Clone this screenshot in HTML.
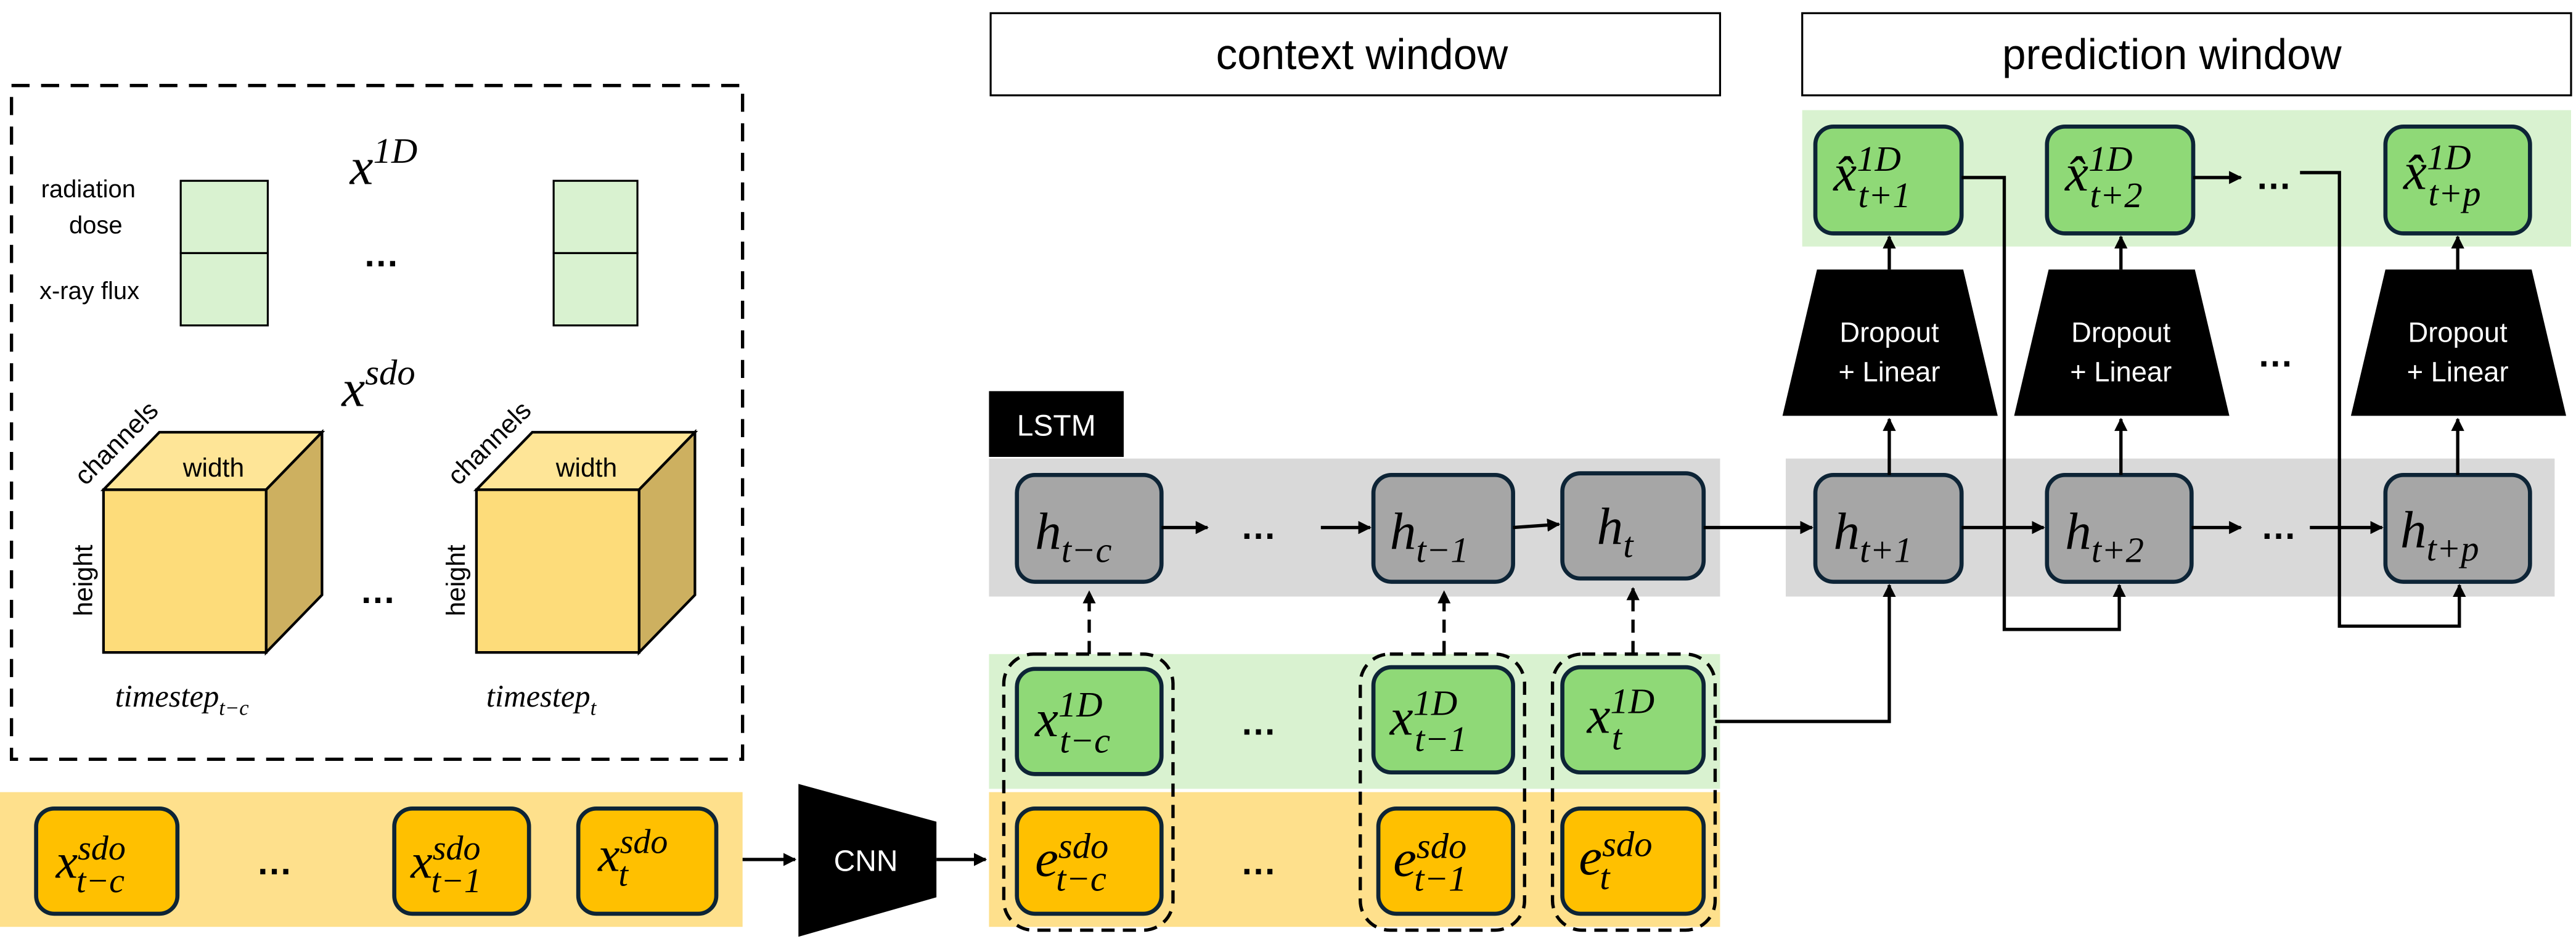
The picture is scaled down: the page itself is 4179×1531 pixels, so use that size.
<!DOCTYPE html>
<html><head><meta charset="utf-8"><style>html,body{margin:0;padding:0;background:#fff}svg{display:block}</style></head><body>
<svg width="4179" height="1531" viewBox="0 0 1568 574.4" xmlns="http://www.w3.org/2000/svg" font-family="Liberation Sans, sans-serif">
<defs>
<marker id="a" viewBox="0 0 10 10" refX="9" refY="5" markerWidth="4" markerHeight="4" orient="auto"><path d="M0,0L10,5L0,10z" fill="#000"/></marker>
</defs>
<!-- left dashed panel -->
<rect x="7" y="52" width="445" height="410" fill="none" stroke="#000" stroke-width="2" stroke-dasharray="11,7"/>
<text x="213" y="112" font-family="Liberation Serif, serif" font-style="italic" font-size="32">x<tspan font-size="22" dy="-13">1D</tspan></text>
<text x="25" y="120" font-size="15">radiation</text>
<text x="42" y="142" font-size="15">dose</text>
<text x="24" y="182" font-size="15">x-ray flux</text>
<g fill="#d9f2d0" stroke="#000" stroke-width="1.2">
<rect x="110" y="110" width="53" height="44"/><rect x="110" y="154" width="53" height="44"/>
<rect x="337" y="110" width="51" height="44"/><rect x="337" y="154" width="51" height="44"/>
</g>
<text x="232" y="162" font-size="22" font-weight="bold" text-anchor="middle">…</text>
<text x="208" y="247" font-family="Liberation Serif, serif" font-style="italic" font-size="32">x<tspan font-size="22" dy="-13">sdo</tspan></text>
<g stroke="#000" stroke-width="1.6" stroke-linejoin="miter">
<polygon points="63,298 97,263 196,263 162,298" fill="#fee597"/>
<polygon points="162,298 196,263 196,362 162,397" fill="#cdb060"/>
<rect x="63" y="298" width="99" height="99" fill="#fddc7a"/>
<polygon points="290,298 324,263 423,263 389,298" fill="#fee597"/>
<polygon points="389,298 423,263 423,362 389,397" fill="#cdb060"/>
<rect x="290" y="298" width="99" height="99" fill="#fddc7a"/>
</g>
<text x="130" y="290" font-size="16" text-anchor="middle">width</text>
<text x="357" y="290" font-size="16" text-anchor="middle">width</text>
<text transform="translate(52,296) rotate(-45)" font-size="16">channels</text>
<text transform="translate(279,296) rotate(-45)" font-size="16">channels</text>
<text transform="translate(56,375) rotate(-90)" font-size="16">height</text>
<text transform="translate(283,375) rotate(-90)" font-size="16">height</text>
<text x="230" y="367" font-size="22" font-weight="bold" text-anchor="middle">…</text>
<text x="70" y="430" font-family="Liberation Serif, serif" font-style="italic" font-size="19">timestep<tspan font-size="13" dy="5">t−c</tspan></text>
<text x="296" y="430" font-family="Liberation Serif, serif" font-style="italic" font-size="19">timestep<tspan font-size="13" dy="5">t</tspan></text>

<!-- bottom yellow band -->
<rect x="0" y="482" width="452" height="82" fill="#fee08c"/>
<g fill="#ffc000" stroke="#0d2436" stroke-width="2.5">
<rect x="22" y="492" width="86" height="64" rx="11"/>
<rect x="240" y="492" width="82" height="64" rx="11"/>
<rect x="352" y="492" width="84" height="64" rx="11"/>
</g>
<g font-family="Liberation Serif, serif" font-style="italic" font-size="30">
<text x="34" y="534">x<tspan font-size="21" dy="-11">sdo</tspan><tspan font-size="21" dx="-30" dy="20">t−c</tspan></text>
<text x="250" y="534">x<tspan font-size="21" dy="-11">sdo</tspan><tspan font-size="21" dx="-30" dy="20">t−1</tspan></text>
<text x="364" y="530">x<tspan font-size="21" dy="-11">sdo</tspan><tspan font-size="21" dx="-30" dy="20">t</tspan></text>
</g>
<text x="167" y="532" font-size="22" font-weight="bold" text-anchor="middle">…</text>
<line x1="452" y1="523" x2="484" y2="523" stroke="#000" stroke-width="2" marker-end="url(#a)"/>
<polygon points="486,477 570,500 570,546 486,570" fill="#000"/>
<text x="527" y="530" font-size="18" fill="#fff" text-anchor="middle">CNN</text>
<line x1="570" y1="523" x2="600" y2="523" stroke="#000" stroke-width="2" marker-end="url(#a)"/>

<!-- headers -->
<rect x="603" y="8" width="444" height="50" fill="#fff" stroke="#000" stroke-width="1.2"/>
<text x="829" y="42" font-size="26" text-anchor="middle">context window</text>
<rect x="1097" y="8" width="468" height="50" fill="#fff" stroke="#000" stroke-width="1.2"/>
<text x="1322" y="42" font-size="26" text-anchor="middle">prediction window</text>

<!-- context bands -->
<rect x="602" y="279" width="445" height="84" fill="#d9d9d9"/>
<rect x="602" y="398" width="445" height="82" fill="#d9f2d0"/>
<rect x="602" y="482" width="445" height="82" fill="#fee08c"/>
<rect x="602" y="238" width="82" height="40" fill="#000"/>
<text x="643" y="265" font-size="18" fill="#fff" text-anchor="middle">LSTM</text>

<g stroke="#0d2436" stroke-width="2.5">
<rect x="619" y="289" width="88" height="65" rx="11" fill="#a6a6a6"/>
<rect x="836" y="289" width="85" height="65" rx="11" fill="#a6a6a6"/>
<rect x="951" y="288" width="86" height="64" rx="11" fill="#a6a6a6"/>
<rect x="619" y="407" width="88" height="64" rx="11" fill="#8fd977"/>
<rect x="836" y="406" width="85" height="64" rx="11" fill="#8fd977"/>
<rect x="951" y="406" width="86" height="64" rx="11" fill="#8fd977"/>
<rect x="619" y="492" width="88" height="64" rx="11" fill="#ffc000"/>
<rect x="839" y="492" width="82" height="64" rx="11" fill="#ffc000"/>
<rect x="951" y="492" width="86" height="64" rx="11" fill="#ffc000"/>
</g>
<g fill="none" stroke="#000" stroke-width="2" stroke-dasharray="8,5">
<rect x="611" y="398" width="103" height="168" rx="18"/>
<rect x="828" y="398" width="100" height="168" rx="18"/>
<rect x="945" y="398" width="99" height="168" rx="18"/>
<line x1="663" y1="398" x2="663" y2="360" marker-end="url(#a)"/>
<line x1="879" y1="398" x2="879" y2="360" marker-end="url(#a)"/>
<line x1="994" y1="398" x2="994" y2="358" marker-end="url(#a)"/>
</g>
<g font-family="Liberation Serif, serif" font-style="italic" font-size="32">
<text x="630" y="334">h<tspan font-size="22" dy="8">t−c</tspan></text>
<text x="846" y="334">h<tspan font-size="22" dy="8">t−1</tspan></text>
<text x="972" y="331">h<tspan font-size="22" dy="8">t</tspan></text>
<text x="630" y="448">x<tspan font-size="22" dy="-12">1D</tspan><tspan font-size="22" dx="-26" dy="22">t−c</tspan></text>
<text x="846" y="447">x<tspan font-size="22" dy="-12">1D</tspan><tspan font-size="22" dx="-26" dy="22">t−1</tspan></text>
<text x="966" y="446">x<tspan font-size="22" dy="-12">1D</tspan><tspan font-size="22" dx="-26" dy="22">t</tspan></text>
<text x="630" y="533">e<tspan font-size="22" dy="-11">sdo</tspan><tspan font-size="22" dx="-32" dy="20">t−c</tspan></text>
<text x="848" y="533">e<tspan font-size="22" dy="-11">sdo</tspan><tspan font-size="22" dx="-32" dy="20">t−1</tspan></text>
<text x="961" y="532">e<tspan font-size="22" dy="-11">sdo</tspan><tspan font-size="22" dx="-32" dy="20">t</tspan></text>
</g>
<g font-size="22" font-weight="bold" text-anchor="middle">
<text x="766" y="328">…</text><text x="766" y="447">…</text><text x="766" y="532">…</text>
</g>

<!-- prediction -->
<rect x="1097" y="67" width="468" height="83" fill="#d9f2d0"/>
<rect x="1087" y="279" width="468" height="84" fill="#d9d9d9"/>
<g fill="#000">
<polygon points="1106,164 1195,164 1216,253 1085,253"/>
<polygon points="1247,164 1336,164 1357,253 1226,253"/>
<polygon points="1452,164 1541,164 1562,253 1431,253"/>
</g>
<g font-size="17" fill="#fff" text-anchor="middle">
<text x="1150" y="208">Dropout</text><text x="1150" y="232">+ Linear</text>
<text x="1291" y="208">Dropout</text><text x="1291" y="232">+ Linear</text>
<text x="1496" y="208">Dropout</text><text x="1496" y="232">+ Linear</text>
</g>
<text x="1385" y="223" font-size="22" font-weight="bold" text-anchor="middle">…</text>
<g stroke="#0d2436" stroke-width="2.5">
<rect x="1105" y="77" width="89" height="65" rx="11" fill="#8fd977"/>
<rect x="1246" y="77" width="89" height="65" rx="11" fill="#8fd977"/>
<rect x="1452" y="77" width="88" height="65" rx="11" fill="#8fd977"/>
<rect x="1105" y="289" width="89" height="65" rx="11" fill="#a6a6a6"/>
<rect x="1246" y="289" width="88" height="65" rx="11" fill="#a6a6a6"/>
<rect x="1452" y="289" width="88" height="65" rx="11" fill="#a6a6a6"/>
</g>
<g font-family="Liberation Serif, serif" font-style="italic" font-size="32">
<text x="1116" y="116">x̂<tspan font-size="22" dy="-12">1D</tspan><tspan font-size="22" dx="-26" dy="22">t+1</tspan></text>
<text x="1257" y="116">x̂<tspan font-size="22" dy="-12">1D</tspan><tspan font-size="22" dx="-26" dy="22">t+2</tspan></text>
<text x="1463" y="115">x̂<tspan font-size="22" dy="-12">1D</tspan><tspan font-size="22" dx="-26" dy="22">t+p</tspan></text>
<text x="1116" y="334">h<tspan font-size="22" dy="8">t+1</tspan></text>
<text x="1257" y="334">h<tspan font-size="22" dy="8">t+2</tspan></text>
<text x="1461" y="333">h<tspan font-size="22" dy="8">t+p</tspan></text>
</g>
<g font-size="22" font-weight="bold" text-anchor="middle"><text x="1384" y="115">…</text><text x="1387" y="328">…</text></g>
<g stroke="#000" stroke-width="2" fill="none">
<line x1="707" y1="321" x2="735" y2="321" marker-end="url(#a)"/>
<line x1="804" y1="321" x2="834" y2="321" marker-end="url(#a)"/>
<line x1="921" y1="321" x2="949" y2="319" marker-end="url(#a)"/>
<line x1="1037" y1="321" x2="1103" y2="321" marker-end="url(#a)"/>
<polyline points="1044,439 1150,439 1150,356" marker-end="url(#a)"/>
<line x1="1194" y1="321" x2="1244" y2="321" marker-end="url(#a)"/>
<line x1="1334" y1="321" x2="1364" y2="321" marker-end="url(#a)"/>
<line x1="1406" y1="321" x2="1450" y2="321" marker-end="url(#a)"/>
<line x1="1335" y1="108" x2="1364" y2="108" marker-end="url(#a)"/>
<polyline points="1194,108 1220,108 1220,383 1290,383 1290,356" marker-end="url(#a)"/>
<polyline points="1400,105 1424,105 1424,381 1497,381 1497,356" marker-end="url(#a)"/>
<line x1="1150" y1="289" x2="1150" y2="255" marker-end="url(#a)"/>
<line x1="1291" y1="289" x2="1291" y2="255" marker-end="url(#a)"/>
<line x1="1496" y1="289" x2="1496" y2="255" marker-end="url(#a)"/>
<line x1="1150" y1="164" x2="1150" y2="144" marker-end="url(#a)"/>
<line x1="1291" y1="164" x2="1291" y2="144" marker-end="url(#a)"/>
<line x1="1496" y1="164" x2="1496" y2="144" marker-end="url(#a)"/>
</g>
</svg>
</body></html>
